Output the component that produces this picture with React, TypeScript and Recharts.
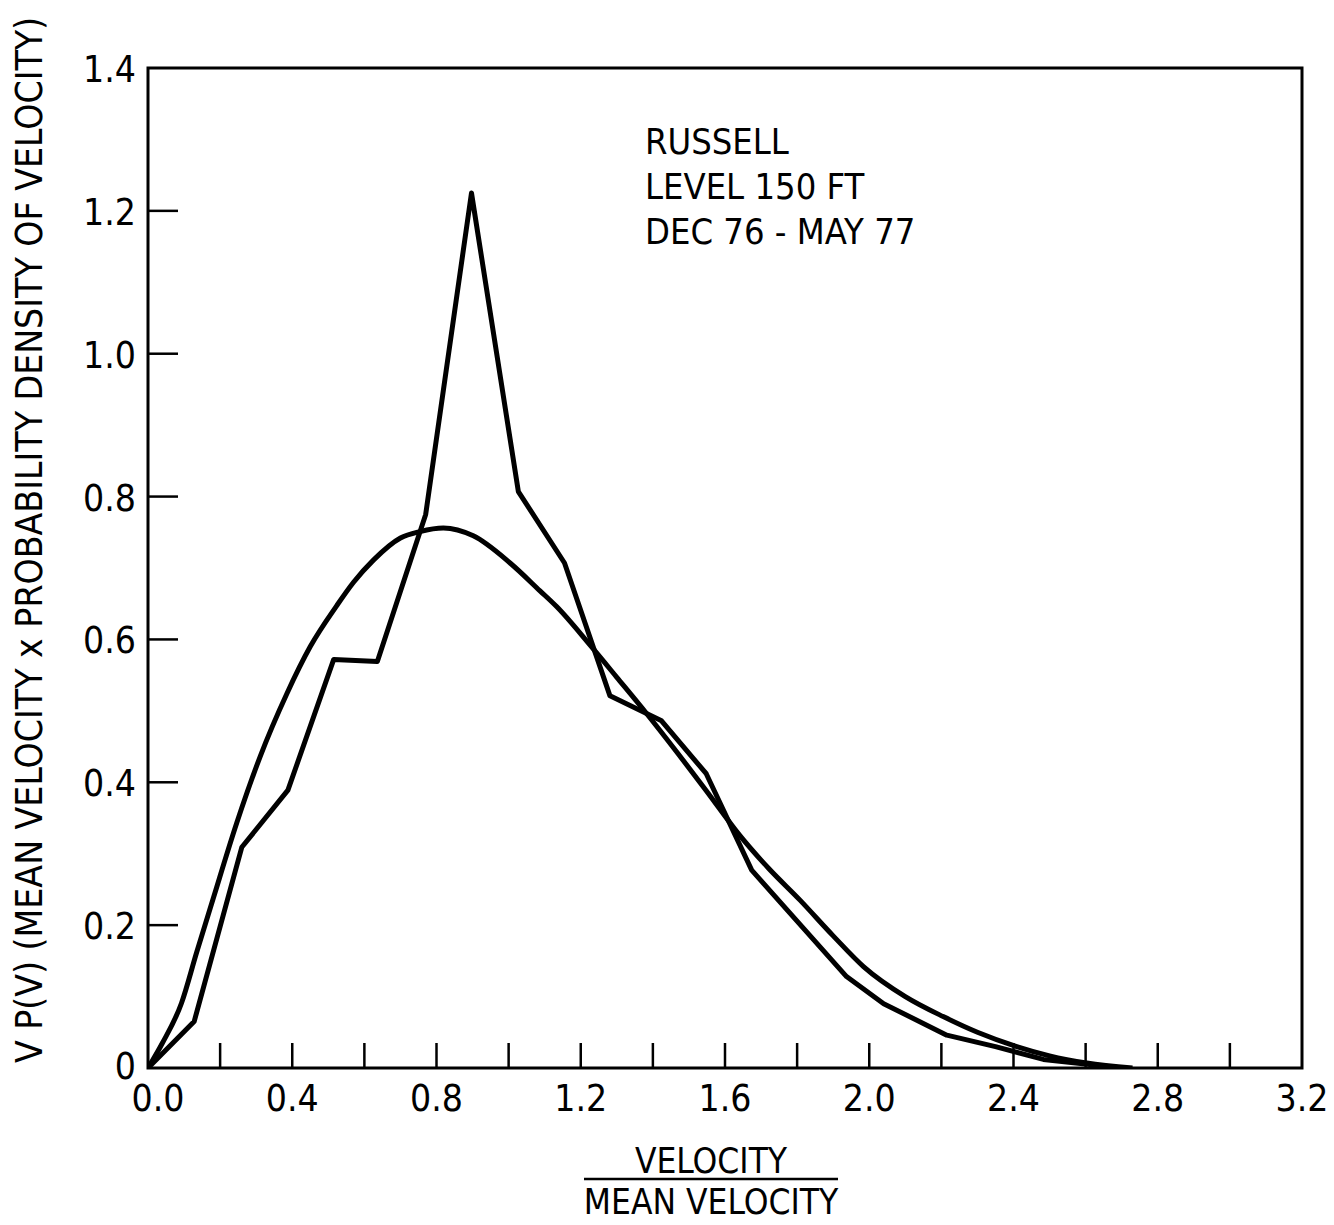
import React from 'react';
import { LineChart, Line, XAxis, YAxis, ReferenceArea, Customized } from 'recharts';

// Measured (jagged) curve
const EMP_X = [0, 0.128, 0.26, 0.388, 0.515, 0.636, 0.77, 0.897, 1.027, 1.155, 1.281, 1.424, 1.548, 1.674, 1.937, 2.04, 2.215, 2.35, 2.483, 2.7];
const EMP_Y = [0, 0.065, 0.309, 0.389, 0.572, 0.569, 0.775, 1.225, 0.807, 0.707, 0.521, 0.486, 0.412, 0.277, 0.128, 0.09, 0.046, 0.03, 0.012, 0];

// Fitted (smooth) curve
const FIT_X = [0, 0.04, 0.093, 0.135, 0.18, 0.246, 0.311, 0.385, 0.45, 0.523, 0.57, 0.625, 0.7, 0.754, 0.819, 0.902, 1.004, 1.087, 1.133, 1.226, 1.3, 1.383, 1.47, 1.547, 1.642, 1.72, 1.808, 1.9, 1.984, 2.1, 2.205, 2.3, 2.409, 2.5, 2.603, 2.73];
const FIT_Y = [0, 0.035, 0.091, 0.162, 0.236, 0.343, 0.436, 0.524, 0.59, 0.647, 0.68, 0.711, 0.742, 0.751, 0.756, 0.745, 0.707, 0.668, 0.646, 0.592, 0.547, 0.496, 0.44, 0.389, 0.325, 0.28, 0.235, 0.185, 0.142, 0.1, 0.072, 0.05, 0.03, 0.017, 0.007, 0];

const X_TICKS = [0, 0.2, 0.4, 0.6, 0.8, 1.0, 1.2, 1.4, 1.6, 1.8, 2.0, 2.2, 2.4, 2.6, 2.8, 3.0, 3.2];
const X_LABELS: Record<string, string> = { '0': '0.0', '0.4': '0.4', '0.8': '0.8', '1.2': '1.2', '1.6': '1.6', '2': '2.0', '2.4': '2.4', '2.8': '2.8', '3.2': '3.2' };
const Y_TICKS = [0, 0.2, 0.4, 0.6, 0.8, 1.0, 1.2, 1.4];
const Y_LABELS = ['0', '0.2', '0.4', '0.6', '0.8', '1.0', '1.2', '1.4'];

const NOTE_LINES = ['RUSSELL', 'LEVEL 150 FT', 'DEC 76 - MAY 77'];
const Y_TITLE = 'V P(V) (MEAN VELOCITY x PROBABILITY DENSITY OF VELOCITY)';
const X_TITLE_TOP = 'VELOCITY';
const X_TITLE_BOTTOM = 'MEAN VELOCITY';

const empData = EMP_X.map((x, i) => ({ x, y: EMP_Y[i] }));
const fitData = FIT_X.map((x, i) => ({ x, y: FIT_Y[i] }));

const FONT = '"Liberation Sans Narrow", "DejaVu Sans Condensed", "Arial Narrow", sans-serif';

const XTick = (props: any) => {
  const { x, y, payload } = props;
  const v = Math.round(payload.value * 10) / 10;
  const label = X_LABELS[String(v)];
  const edge = v === 0 || v === 3.2;
  return (
    <g>
      {!edge && <line x1={x} y1={y} x2={x} y2={y - 25} stroke="#000" strokeWidth={2.5} />}
      {label && (
        <text x={x + (v === 0 ? 10 : 0)} y={y + 43} textAnchor="middle" fontFamily={FONT} fontSize={37} fill="#000">
          {label}
        </text>
      )}
    </g>
  );
};

const YTick = (props: any) => {
  const { x, y, payload, index } = props;
  const v = Math.round(payload.value * 10) / 10;
  const edge = v === 0 || v === 1.4;
  return (
    <g>
      {!edge && <line x1={x} y1={y} x2={x + 30} y2={y} stroke="#000" strokeWidth={2.5} />}
      <text x={x - 12} y={y + (v === 0 ? 11 : 14)} textAnchor="end" fontFamily={FONT} fontSize={37} fill="#000">
        {Y_LABELS[index]}
      </text>
    </g>
  );
};

const Annotations = () => (
  <g fontFamily={FONT} fill="#000">
    {NOTE_LINES.map((t, i) => (
      <text key={t} x={645} y={154 + i * 45} fontSize={36}>
        {t}
      </text>
    ))}
    <text x={42} y={540} fontSize={37} textAnchor="middle" transform="rotate(-90 42 540)">
      {Y_TITLE}
    </text>
    <text x={711} y={1173} fontSize={35} textAnchor="middle">
      {X_TITLE_TOP}
    </text>
    <line x1={584} y1={1179} x2={838} y2={1179} stroke="#000" strokeWidth={2.5} />
    <text x={711} y={1214} fontSize={35} textAnchor="middle">
      {X_TITLE_BOTTOM}
    </text>
  </g>
);

export default function App() {
  return (
    <div style={{ position: 'absolute', left: 0, top: 0, background: '#fff' }}>
      <LineChart width={1334} height={1225} margin={{ top: 68, right: 32, left: 0, bottom: 0 }}>
        <XAxis
          type="number"
          dataKey="x"
          domain={[0, 3.2]}
          ticks={X_TICKS}
          interval={0}
          height={157}
          axisLine={false}
          tickLine={false}
          tickSize={0}
          tickMargin={0}
          tick={<XTick />}
          allowDataOverflow
        />
        <YAxis
          type="number"
          dataKey="y"
          domain={[0, 1.4]}
          ticks={Y_TICKS}
          interval={0}
          width={148}
          axisLine={false}
          tickLine={false}
          tickSize={0}
          tickMargin={0}
          tick={<YTick />}
          allowDataOverflow
        />
        <ReferenceArea x1={0} x2={3.2} y1={0} y2={1.4} fill="none" stroke="#000" strokeWidth={3} fillOpacity={0} />
        <Line data={fitData} dataKey="y" type="monotone" stroke="#000" strokeWidth={5} dot={false} isAnimationActive={false} />
        <Line data={empData} dataKey="y" type="linear" stroke="#000" strokeWidth={5} dot={false} strokeLinejoin="round" isAnimationActive={false} />
        <Customized component={Annotations} />
      </LineChart>
    </div>
  );
}
